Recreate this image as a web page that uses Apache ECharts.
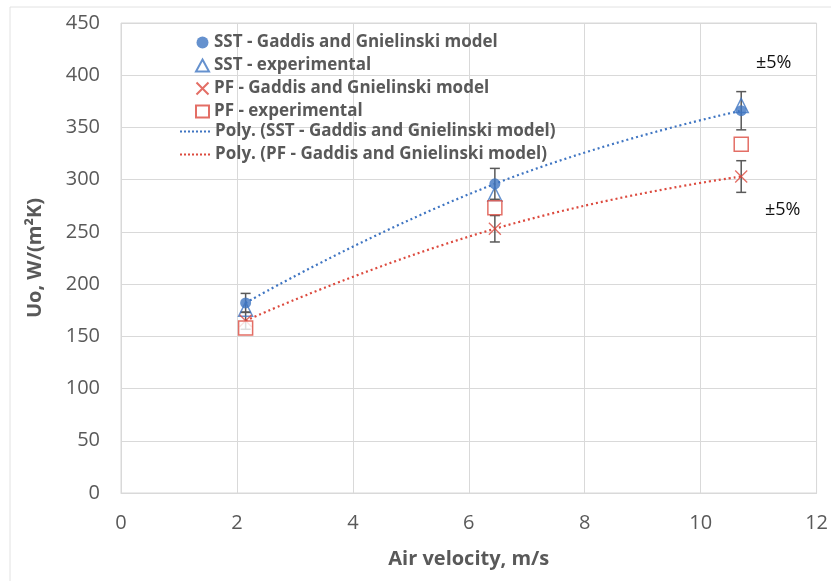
<!DOCTYPE html>
<html>
<head>
<meta charset="utf-8">
<script src="https://cdn.jsdelivr.net/npm/echarts@6/dist/echarts.min.js"></script>
<style>html,body{margin:0;padding:0;background:#fff}#c{width:831px;height:581px}</style>
</head>
<body>
<div id="c"></div>
<script>
const velocity = [2.15, 6.45, 10.7];
const sstModel = [182, 296, 366];
const sstExp = [176, 286, 371];
const pfModel = [165, 253, 303];
const pfExp = [158, 273, 334];
const errPct = 0.05;
const xTicks = [0, 2, 4, 6, 8, 10, 12];
const yTicks = [0, 50, 100, 150, 200, 250, 300, 350, 400, 450];

const BLUE = '#3F75C2';
const RED = '#DC4A3E';
const GRAY = '#595959';
const FONT = 'Open Sans';

const pts = a => velocity.map((x, i) => [x, a[i]]);
const errData = a => velocity.map((x, i) => [x, a[i] * (1 - errPct), a[i] * (1 + errPct)]);

function errRender(params, api) {
  const x = api.value(0);
  const lo = api.coord([x, api.value(1)]);
  const hi = api.coord([x, api.value(2)]);
  const w = 5;
  const st = { stroke: GRAY, lineWidth: 1.5 };
  return {
    type: 'group',
    children: [
      { type: 'line', shape: { x1: lo[0], y1: lo[1], x2: hi[0], y2: hi[1] }, style: st },
      { type: 'line', shape: { x1: lo[0] - w, y1: lo[1], x2: lo[0] + w, y2: lo[1] }, style: st },
      { type: 'line', shape: { x1: hi[0] - w, y1: hi[1], x2: hi[0] + w, y2: hi[1] }, style: st }
    ]
  };
}

// dotted legend icon
let dots = '';
for (let i = 0; i < 8; i++) dots += 'M' + (i * 4) + ',0h2v2h-2z';
const DOTS = 'path://' + dots;
const CROSS = 'path://M0,0L10,10M10,0L0,10';

const legendText = { fontFamily: FONT, fontSize: 17, lineHeight: 17, fontWeight: 'bold', color: GRAY };
const pctStyle = { fontFamily: FONT, fontSize: 18, fontWeight: 'normal', color: '#111' };

const chart = echarts.init(document.getElementById('c'), null, { renderer: 'canvas' });
chart.setOption({
  animation: false,
  textStyle: { fontFamily: FONT },
  title: [
    { text: '±5%', left: 751, top: 49, textStyle: pctStyle },
    { text: '±5%', left: 760, top: 196, textStyle: pctStyle }
  ],
  grid: { left: 121, right: 13, top: 23, bottom: 88, show: true, borderColor: '#d9d9d9', borderWidth: 1 },
  graphic: [
    { type: 'rect', shape: { x: 10, y: 7, width: 830, height: 590 }, style: { fill: 'none', stroke: '#e2e2e2', lineWidth: 1 }, silent: true }
  ],
  legend: [
    {
      orient: 'vertical', left: 189, top: 29, itemGap: 6, itemWidth: 13, itemHeight: 12,
      textStyle: legendText,
      data: [
        { name: 'SST - Gaddis and Gnielinski model' },
        { name: 'SST - experimental' },
        { name: 'PF - Gaddis and Gnielinski model' },
        { name: 'PF - experimental' }
      ]
    },
    {
      orient: 'vertical', left: 175, top: 118, itemGap: 6, itemWidth: 30, itemHeight: 2.5,
      textStyle: legendText,
      data: [
        { name: 'Poly. (SST - Gaddis and Gnielinski model)', icon: DOTS },
        { name: 'Poly. (PF - Gaddis and Gnielinski model)', icon: DOTS }
      ]
    }
  ],
  xAxis: {
    type: 'value', min: xTicks[0], max: xTicks[xTicks.length - 1], interval: 2,
    name: 'Air velocity, m/s', nameLocation: 'middle', nameGap: 56,
    nameTextStyle: { fontFamily: FONT, fontSize: 20, fontWeight: 'bold', color: GRAY },
    axisLine: { show: true, lineStyle: { color: '#d9d9d9' } },
    axisTick: { show: false },
    axisLabel: { fontSize: 20, color: GRAY, margin: 20 },
    splitLine: { show: true, lineStyle: { color: '#d9d9d9' } }
  },
  yAxis: {
    type: 'value', min: yTicks[0], max: yTicks[yTicks.length - 1], interval: 50,
    name: 'Uo, W/(m²K)', nameLocation: 'middle', nameGap: 76, nameRotate: 90,
    nameTextStyle: { fontFamily: FONT, fontSize: 20, fontWeight: 'bold', color: GRAY },
    axisLine: { show: false },
    axisTick: { show: false },
    axisLabel: { fontSize: 20, color: GRAY, margin: 21 },
    splitLine: { show: true, lineStyle: { color: '#d9d9d9' } }
  },
  series: [
    {
      name: 'Poly. (SST - Gaddis and Gnielinski model)', type: 'line', smooth: 0.5, data: pts(sstModel),
      symbol: 'none', lineStyle: { color: BLUE, width: 2.2, type: [2, 3] }, itemStyle: { color: BLUE }, z: 2
    },
    {
      name: 'Poly. (PF - Gaddis and Gnielinski model)', type: 'line', smooth: 0.5, data: pts(pfModel),
      symbol: 'none', lineStyle: { color: RED, width: 2.2, type: [2, 3] }, itemStyle: { color: RED }, z: 2
    },
    { type: 'custom', renderItem: errRender, data: errData(sstModel), z: 3, silent: true },
    { type: 'custom', renderItem: errRender, data: errData(pfModel), z: 3, silent: true },
    {
      name: 'SST - Gaddis and Gnielinski model', type: 'scatter', data: pts(sstModel),
      symbol: 'circle', symbolSize: 11, itemStyle: { color: BLUE }, z: 5
    },
    {
      name: 'SST - experimental', type: 'scatter', data: pts(sstExp),
      symbol: 'triangle', symbolSize: 14, itemStyle: { color: 'rgba(255,255,255,0)', borderColor: BLUE, borderWidth: 1.5 }, z: 5
    },
    {
      name: 'PF - Gaddis and Gnielinski model', type: 'scatter', data: pts(pfModel),
      symbol: CROSS, symbolSize: 12, itemStyle: { color: 'none', borderColor: RED, borderWidth: 1.3 }, z: 5
    },
    {
      name: 'PF - experimental', type: 'scatter', data: pts(pfExp),
      symbol: 'rect', symbolSize: 14, itemStyle: { color: '#fff', borderColor: RED, borderWidth: 1.5 }, z: 5
    }
  ]
});
</script>
</body>
</html>
